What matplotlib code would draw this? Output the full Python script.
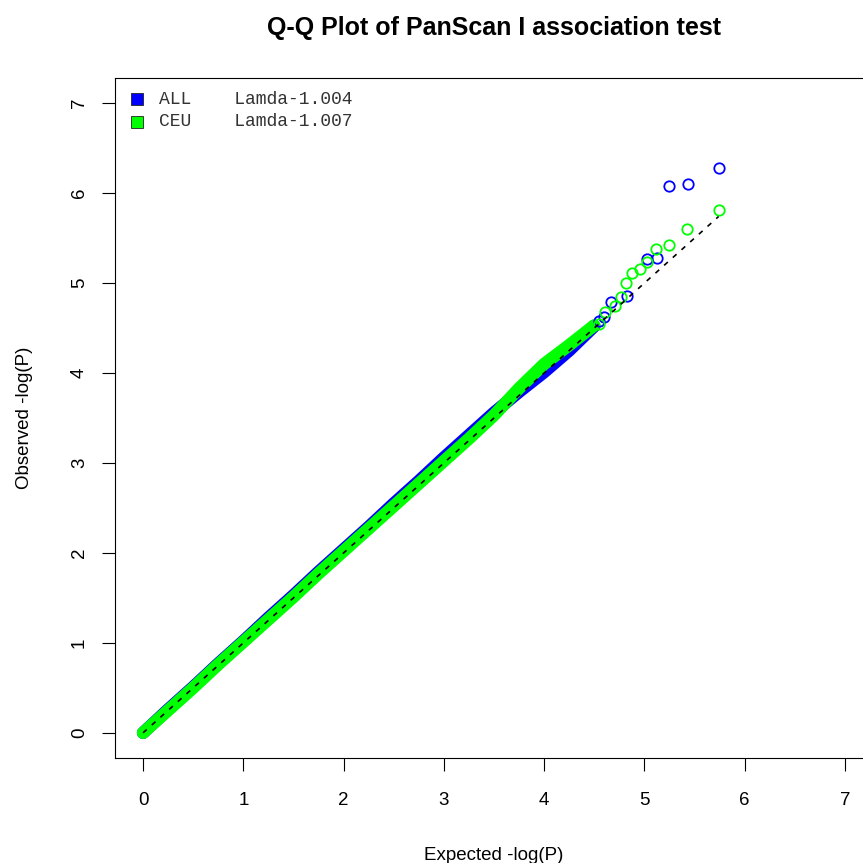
import matplotlib
matplotlib.use("Agg")
import matplotlib.pyplot as plt
from matplotlib.patches import Rectangle

plt.rcParams["font.family"] = ["Liberation Sans", "DejaVu Sans"]

# dense part of the Q-Q cloud (expected vs observed -log10 P)
exp_dense = [0.0, 0.25, 0.5, 0.75, 1.0, 1.25, 1.5, 1.75, 2.0, 2.25, 2.5, 2.75,
             3.0, 3.25, 3.5, 3.75, 4.0, 4.25, 4.5]
obs_all_dense = [0.0, 0.26, 0.51, 0.77, 1.02, 1.28, 1.53, 1.79, 2.04, 2.29, 2.55, 2.80,
                 3.06, 3.31, 3.56, 3.79, 4.01, 4.25, 4.52]
obs_ceu_dense = [0.0, 0.25, 0.50, 0.76, 1.01, 1.26, 1.51, 1.77, 2.02, 2.27, 2.52, 2.77,
                 3.02, 3.27, 3.53, 3.83, 4.10, 4.31, 4.53]

# tail points, read individually
exp_all_tail = [4.55, 4.60, 4.67, 4.83, 5.03, 5.13, 5.25, 5.43, 5.74]
obs_all_tail = [4.58, 4.62, 4.79, 4.86, 5.27, 5.28, 6.08, 6.10, 6.28]
exp_ceu_tail = [4.55, 4.61, 4.71, 4.77, 4.82, 4.88, 4.96, 5.03, 5.12, 5.25, 5.42, 5.74]
obs_ceu_tail = [4.55, 4.68, 4.75, 4.84, 5.00, 5.11, 5.16, 5.23, 5.38, 5.42, 5.60, 5.81]

null_line = [0, 5.74]

groups = ["ALL", "CEU"]
lambdas = ["1.004", "1.007"]
colors = ["#0000FF", "#00FF00"]

ticks = [0, 1, 2, 3, 4, 5, 6, 7]

fig = plt.figure(figsize=(8.63, 8.63), dpi=100)
# right part of the frame runs past the image edge, like the original
ax = fig.add_axes([115 / 863, 105 / 863, 758 / 863, 680 / 863])

series = [(exp_dense, obs_all_dense, exp_all_tail, obs_all_tail),
          (exp_dense, obs_ceu_dense, exp_ceu_tail, obs_ceu_tail)]
for (ex, ob, ext, obt), col in zip(series, colors):
    ax.plot(ex, ob, "-", color=col, lw=9, solid_capstyle="round",
            solid_joinstyle="round", zorder=2)
    ax.plot(ext, obt, "o", mfc="none", mec=col, ms=7.5, mew=1.3, zorder=3)

ax.plot(null_line, null_line, color="black", lw=1.2, ls=(0, (3, 4)), zorder=4)

ax.set_xlim(-0.28, 7.28)
ax.set_ylim(-0.28, 7.28)
ax.set_xticks(ticks)
ax.set_yticks(ticks)
ax.tick_params(direction="out", length=9.5, width=0.8, labelsize=13.5)
ax.tick_params(axis="x", pad=15)
ax.tick_params(axis="y", pad=10)
for lab in ax.get_yticklabels():
    lab.set_rotation(90)
    lab.set_va("center")
for sp in ax.spines.values():
    sp.set_linewidth(0.8)

ax.set_xlabel("Expected -log(P)", fontsize=13.5, labelpad=27)
ax.set_ylabel("Observed -log(P)", fontsize=13.5, labelpad=27)
ax.set_title("Q-Q Plot of PanScan I association test", fontsize=18,
             fontweight="bold", pad=31)

# legend: filled squares + monospace text
for i, (g, lam, col) in enumerate(zip(groups, lambdas, colors)):
    yc = (757 - (98 + 23 * i)) / 680
    ax.add_patch(Rectangle(((131 - 115) / 758, yc - 6 / 680), 12 / 758, 12 / 680,
                           transform=ax.transAxes, facecolor=col,
                           edgecolor="#222222", lw=0.6, clip_on=False))
    ax.text((159 - 115) / 758, yc, f"{g}    Lamda-{lam}", transform=ax.transAxes,
            family="Liberation Mono", fontsize=13, va="center", ha="left",
            color="#333333")

fig.savefig("out.png", dpi=100)
